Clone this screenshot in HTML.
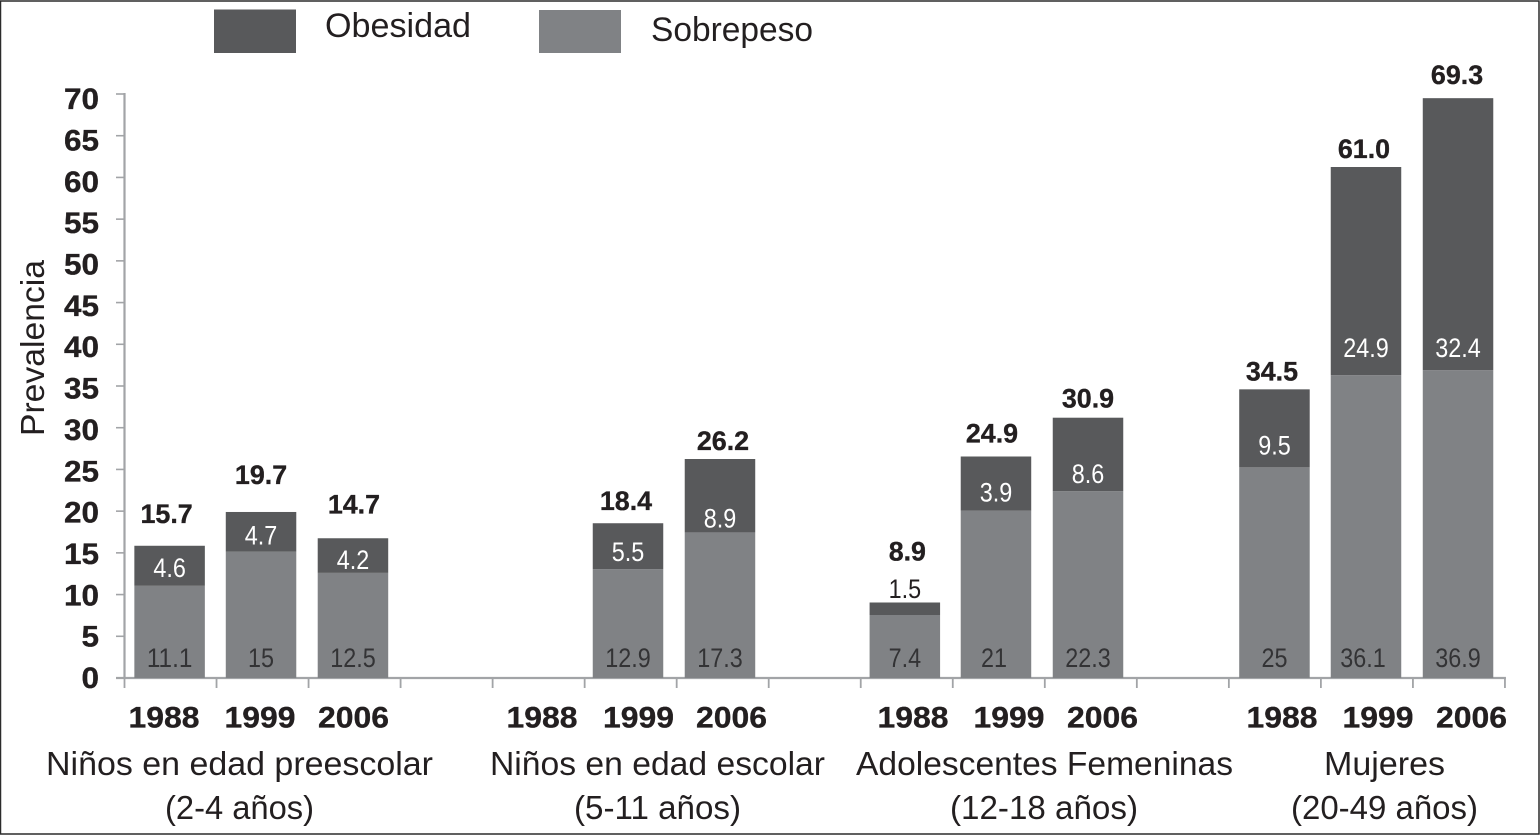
<!DOCTYPE html>
<html lang="es">
<head>
<meta charset="utf-8">
<title>Prevalencia de sobrepeso y obesidad</title>
<style>
html,body{margin:0;padding:0;background:#fff;width:1540px;height:835px;overflow:hidden}
svg{display:block}
text{font-family:"Liberation Sans",sans-serif;fill:#231f20}
.bold{font-weight:700;stroke:#231f20;stroke-width:0.35}
</style>
</head>
<body>
<svg id="chart" xmlns="http://www.w3.org/2000/svg" width="1540" height="835" viewBox="0 0 1540 835">
  <rect x="0" y="0" width="1540" height="835" fill="#fff"/>
  <rect x="0.5" y="1" width="1538.5" height="833" fill="none" stroke="#2b2b2b" stroke-width="1.5"/>

  <g>
    <rect x="214" y="9.5" width="82" height="43.5" fill="#58595b"/>
    <text x="325" y="37" font-size="34" textLength="146" lengthAdjust="spacingAndGlyphs">Obesidad</text>
    <rect x="539" y="10" width="82" height="43" fill="#808285"/>
    <text x="651" y="41" font-size="34" textLength="162" lengthAdjust="spacingAndGlyphs">Sobrepeso</text>
  </g>

  <text transform="translate(44,436) rotate(-90)" font-size="33" textLength="176" lengthAdjust="spacingAndGlyphs">Prevalencia</text>

  <g id="marks"></g>

  <g font-size="33.5">
    <text x="46" y="775" textLength="387" lengthAdjust="spacingAndGlyphs">Niños en edad preescolar</text>
    <text x="165" y="819" textLength="149" lengthAdjust="spacingAndGlyphs">(2-4 años)</text>
    <text x="490" y="775" textLength="335" lengthAdjust="spacingAndGlyphs">Niños en edad escolar</text>
    <text x="574" y="819" textLength="167" lengthAdjust="spacingAndGlyphs">(5-11 años)</text>
    <text x="856" y="775" textLength="377" lengthAdjust="spacingAndGlyphs">Adolescentes Femeninas</text>
    <text x="950" y="819" textLength="188" lengthAdjust="spacingAndGlyphs">(12-18 años)</text>
    <text x="1324" y="775" textLength="121" lengthAdjust="spacingAndGlyphs">Mujeres</text>
    <text x="1291" y="819" textLength="187" lengthAdjust="spacingAndGlyphs">(20-49 años)</text>
  </g>
</svg>
<script>
// Data: one entry per category slot on the x axis (null = no bar drawn).
const categories = ['1988','1999','2006',null,'1988','1999','2006',null,'1988','1999','2006',null,'1988','1999','2006'];
const sobrepesoValues = [11.05,15.15,12.6,null,null,13.05,17.45,null,7.55,20.05,22.4,null,25.25,36.3,36.9];
const obesidadValues  = [4.8,4.75,4.15,null,null,5.5,8.8,null,1.5,6.5,8.8,null,9.35,24.95,32.6];
const sobrepesoLabels = ['11.1','15','12.5',null,null,'12.9','17.3',null,'7.4','21','22.3',null,'25','36.1','36.9'];
const obesidadLabels  = ['4.6','4.7','4.2',null,null,'5.5','8.9',null,'1.5','3.9','8.6',null,'9.5','24.9','32.4'];
const totalLabels     = ['15.7','19.7','14.7',null,null,'18.4','26.2',null,'8.9','24.9','30.9',null,'34.5','61.0','69.3'];
const yTicks = [0,5,10,15,20,25,30,35,40,45,50,55,60,65,70];

// Layout (pixels), kept apart from the data.
const Y0 = 678, Y_PER_UNIT = 584 / 70;
const X_AXIS_START = 124.5, SLOT_W = 92.03, BAR_W = 70.5, BAR_FIRST_CENTER = 169.6;
const barNudge = [0,-0.6,-0.7,0,0,-1.75,-1.8,0,-1,-1.9,-1.9,0,0.5,0,0];
const totalGap = [23,28,25,0,0,13,9,0,42,14,10,0,9,9,14];
const totalDx = [-3,0,1,0,0,-2,3,0,2.5,-4,0,0,-2.5,-2,-1];
const sobrepesoDx = [0,0,0,0,0,0,0,0,0,-2,0,0,0,-3,0];
const obesidadGap = [9,7,4,0,0,8,5,0,17,9,8,0,13,18,13];
const yearCenters = [164,260,353.5,null,542,638.5,731.5,null,913,1009,1102.5,null,1282,1378,1471.5];

const yScale = v => Y0 - v * Y_PER_UNIT;
const xBand = i => BAR_FIRST_CENTER + i * SLOT_W + barNudge[i];
const yTickLabelBaseline = v => 688 - v * 8.27;

const NS = 'http://www.w3.org/2000/svg';
const marks = document.getElementById('marks');
function mk(tag) { const n = document.createElementNS(NS, tag); marks.appendChild(n); return n; }
function setAll(n, o) { for (const k in o) n.setAttribute(k, o[k]); }
// Approximate advance widths of the reference's humanist face.
function numWidth(s, size, bold) {
  let w = 0;
  for (const c of s) w += c === '.' ? (bold ? 0.27 : 0.25) : (bold ? 0.555 : 0.5);
  return w * size;
}

// Axis lines
let el = mk('line');


setAll(el, {x1:X_AXIS_START, x2:X_AXIS_START, y1:yScale(70)-1, y2:yScale(0)+1, stroke:'#a2a4a7', 'stroke-width':2.2});
el = mk('line');


setAll(el, {x1:116, x2:X_AXIS_START + categories.length * SLOT_W + 1, y1:Y0, y2:Y0, stroke:'#a2a4a7', 'stroke-width':2.2});

// Y ticks and labels
yTicks.forEach(v => {
  const t = mk('line');
  
  
  setAll(t, {x1:116, x2:X_AXIS_START, y1:yScale(v), y2:yScale(v), stroke:'#a2a4a7', 'stroke-width':1.6});
  const l = mk('text');
  
  
  const s = String(v);
  setAll(l, {x: 99 - s.length * 17.5, y: yTickLabelBaseline(v), 'font-size':30, class:'bold', textLength: s.length * 17.5, lengthAdjust:'spacingAndGlyphs'});
  l.textContent = s;
});

// X ticks
for (let i = 0; i <= categories.length; i++) {
  const t = mk('line');
  
  
  const x = X_AXIS_START + i * SLOT_W;
  setAll(t, {x1:x, x2:x, y1:Y0, y2:688, stroke:'#a2a4a7', 'stroke-width':1.8});
}

// Bars and value labels
categories.forEach((cat, i) => {
  if (cat !== null) {
    const y = mk('text');
    
    
    setAll(y, {x:yearCenters[i] - 35.5, y:727.5, 'font-size':30, class:'bold', textLength:71, lengthAdjust:'spacingAndGlyphs'});
    y.textContent = cat;
  }
  if (sobrepesoValues[i] === null) return;
  const cx = xBand(i), sob = sobrepesoValues[i], ob = obesidadValues[i];
  const yB = yScale(sob), yT = yScale(sob + ob);

  const rs = mk('rect');
  
  
  setAll(rs, {x:cx - BAR_W/2, y:yB, width:BAR_W, height:yScale(0) - yB, fill:'#808285'});

  const ro = mk('rect');
  
  
  setAll(ro, {x:cx - BAR_W/2, y:yT, width:BAR_W, height:yB - yT, fill:'#58595b'});

  const ls = mk('text');
  
  
  const sw = numWidth(sobrepesoLabels[i], 26, false);
  setAll(ls, {x:cx + sobrepesoDx[i] - sw/2, y:667, 'font-size':27, textLength:sw, lengthAdjust:'spacingAndGlyphs', style:'fill:#333335'});
  ls.textContent = sobrepesoLabels[i];

  const lo = mk('text');
  
  
  const ow = numWidth(obesidadLabels[i], 26, false);
  setAll(lo, {x:cx - ow/2, y:yB - obesidadGap[i], 'font-size':27, textLength:ow, lengthAdjust:'spacingAndGlyphs',
              style: ob < 3 ? 'fill:#231f20' : 'fill:#ffffff'});
  lo.textContent = obesidadLabels[i];

  const lt = mk('text');
  
  
  const tw = numWidth(totalLabels[i], 27, true);
  setAll(lt, {x:cx + totalDx[i] - tw/2, y:yT - totalGap[i], 'font-size':27, class:'bold', textLength:tw, lengthAdjust:'spacingAndGlyphs'});
  lt.textContent = totalLabels[i];
});
</script>
</body>
</html>
